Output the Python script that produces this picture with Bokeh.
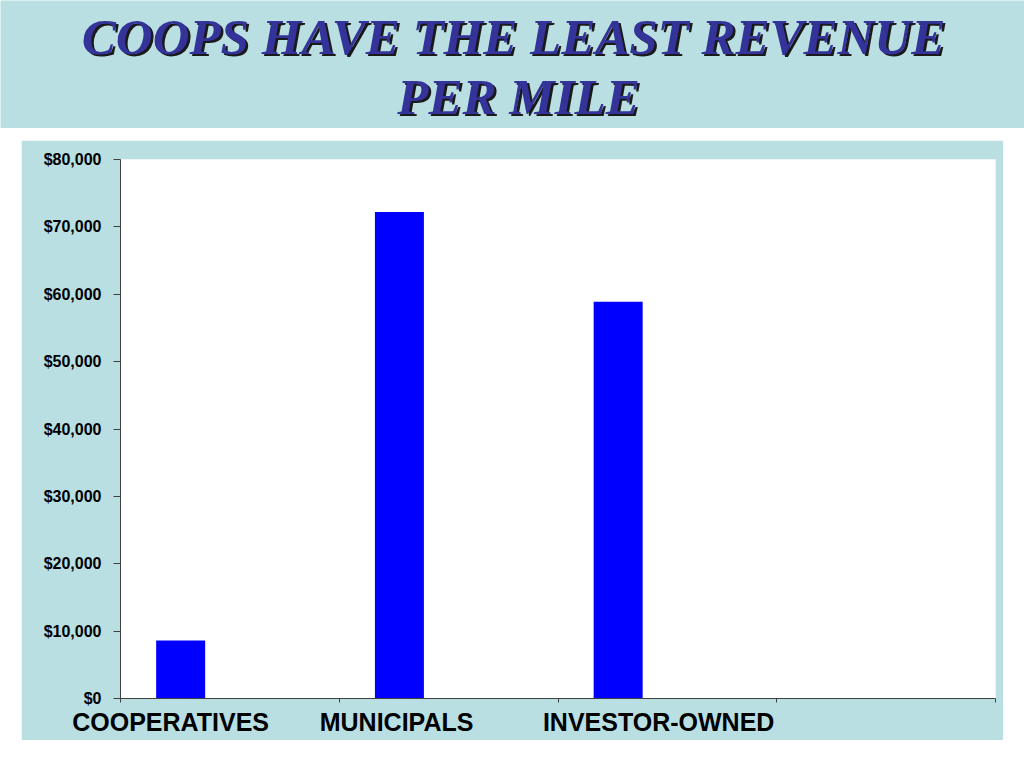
from bokeh.plotting import figure
from bokeh.models import (Range1d, Label, FixedTicker, NumeralTickFormatter, ColumnDataSource,
                          LinearAxis, CustomJSTickFormatter)
from bokeh.embed import file_html
from bokeh.resources import INLINE
import numpy as np

# ---- data ----
categories = ["COOPERATIVES", "MUNICIPALS", "INVESTOR-OWNED"]
revenue_per_mile = [8600, 72200, 58900]
y_ticks = [0, 10000, 20000, 30000, 40000, 50000, 60000, 70000, 80000]
title_lines = ["COOPS HAVE THE LEAST REVENUE", "PER MILE"]

# ---- styles / layout constants ----
BG = "#B9DFE3"
TITLE_COLOR = "#333399"
BAR_COLOR = "#0000FF"
AXIS_COLOR = "#404040"
N_SLOTS = 4
BAR_OFFSET = 0.275
BAR_WIDTH = 0.224
label_x = [0.229, 1.262, 2.46]   # category label centres (data x)

# ---- title band ----
t = figure(width=1024, height=128, x_range=Range1d(0, 1024), y_range=Range1d(128, 0),
           output_backend="svg", toolbar_location=None, title=None,
           x_axis_location=None, y_axis_location=None,
           min_border=0, min_border_left=0, min_border_right=0,
           min_border_top=0, min_border_bottom=0)
t.grid.visible = False
t.outline_line_color = None
t.background_fill_color = BG
t.border_fill_color = BG
title_pos = [(513, 36), (518, 96)]
for line, (tx, ty) in zip(title_lines, title_pos):
    for dx, col in ((2.5, "#1a1a1a"), (0, TITLE_COLOR)):
        t.add_layout(Label(x=tx + dx, y=ty + dx, text=line, text_align="center",
                           text_baseline="alphabetic", text_font="Liberation Serif",
                           text_font_style="bold italic", text_font_size="51px",
                           text_color=col))

# ---- chart ----
p = figure(width=982, height=600, x_range=Range1d(0, N_SLOTS), y_range=Range1d(0, 80000),
           output_backend="svg", toolbar_location=None,
           min_border_left=99, min_border_right=8, min_border_top=19, min_border_bottom=42,
           margin=(12, 0, 0, 21))
p.background_fill_color = "white"
p.border_fill_color = BG
p.outline_line_color = None
p.grid.visible = False

src = ColumnDataSource(dict(x=np.arange(len(categories)) + BAR_OFFSET, top=revenue_per_mile))
p.vbar(x="x", top="top", width=BAR_WIDTH, source=src, fill_color=BAR_COLOR, line_color=None)

# y axis
p.yaxis.ticker = FixedTicker(ticks=y_ticks)
p.yaxis.formatter = NumeralTickFormatter(format="$0,0")
p.yaxis.major_label_text_font = "Liberation Sans"
p.yaxis.major_label_text_font_style = "bold"
p.yaxis.major_label_text_font_size = "16px"
p.yaxis.major_label_text_color = "black"
p.yaxis.major_label_standoff = 12
p.yaxis.major_tick_out = 7
p.yaxis.major_tick_in = 0
p.yaxis.minor_tick_line_color = None
p.yaxis.axis_line_color = AXIS_COLOR
p.yaxis.major_tick_line_color = AXIS_COLOR

# x axis (slot boundaries, no labels)
p.xaxis.ticker = FixedTicker(ticks=list(range(N_SLOTS + 1)))
p.xaxis.major_label_text_font_size = "1px"
p.xaxis.major_label_text_color = None
p.xaxis.major_label_standoff = 0
p.xaxis.major_tick_out = 4
p.xaxis.major_tick_in = 0
p.xaxis.minor_tick_line_color = None
p.xaxis.axis_line_color = AXIS_COLOR
p.xaxis.major_tick_line_color = AXIS_COLOR

# second axis carrying the category names
cat_axis = LinearAxis(ticker=FixedTicker(ticks=label_x),
                      formatter=CustomJSTickFormatter(args=dict(names=categories),
                                                      code="return names[index];"))
cat_axis.axis_line_color = None
cat_axis.major_tick_line_color = None
cat_axis.minor_tick_line_color = None
cat_axis.major_tick_out = 0
cat_axis.major_tick_in = 0
cat_axis.major_label_standoff = 5
cat_axis.major_label_text_font = "Liberation Sans"
cat_axis.major_label_text_font_style = "bold"
cat_axis.major_label_text_font_size = "25px"
cat_axis.major_label_text_color = "black"
p.add_layout(cat_axis, "below")

open("out.html", "w").write(file_html([t, p], INLINE))
